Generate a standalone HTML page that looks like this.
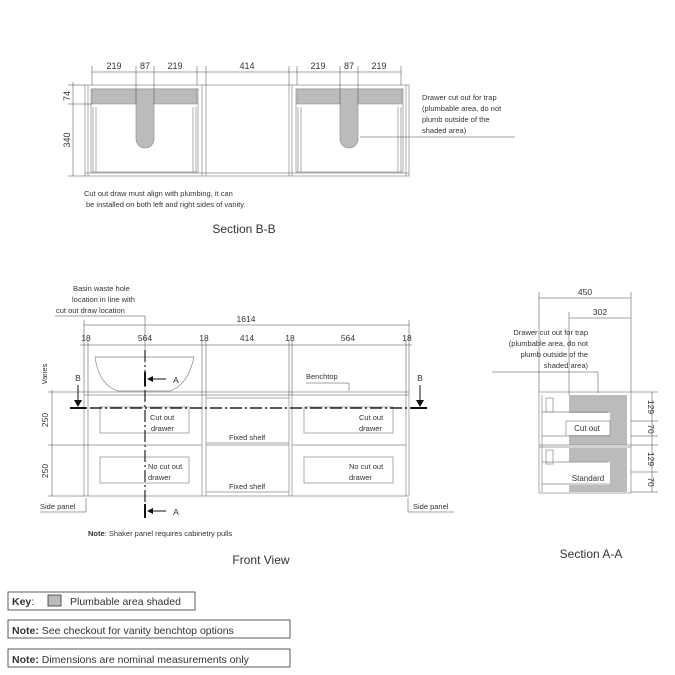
<!DOCTYPE html>
<html><head><meta charset="utf-8"><style>
body{margin:0;background:#fff}
svg{display:block;font-family:"Liberation Sans",sans-serif}
text{fill:#333}
</style></head><body>
<svg width="675" height="675" viewBox="0 0 675 675">
<defs><marker id="ar" markerWidth="6" markerHeight="6" refX="5" refY="3" orient="auto"><path d="M0,1.5L5,3L0,4.5z" fill="#333"/></marker></defs>
<g stroke="#888" stroke-width="0.7" fill="none">
<!-- Section B-B -->
<rect x="85" y="85" width="324" height="91"/>
<line x1="202" y1="85" x2="202" y2="176"/><line x1="206" y1="85" x2="206" y2="176"/>
<line x1="289" y1="85" x2="289" y2="176"/><line x1="292" y1="85" x2="292" y2="176"/>
<line x1="88" y1="85" x2="88" y2="176"/><line x1="406" y1="85" x2="406" y2="176"/>
<line x1="85" y1="173" x2="409" y2="173"/>
<rect x="91" y="89" width="107" height="83"/><rect x="296" y="89" width="107" height="83"/>
<line x1="93" y1="107" x2="93" y2="172"/><line x1="96" y1="107" x2="96" y2="172"/><line x1="193" y1="107" x2="193" y2="172"/><line x1="196" y1="107" x2="196" y2="172"/>
<line x1="298" y1="107" x2="298" y2="172"/><line x1="301" y1="107" x2="301" y2="172"/><line x1="398" y1="107" x2="398" y2="172"/><line x1="401" y1="107" x2="401" y2="172"/>
</g>
<g fill="#bbb" stroke="#888" stroke-width="0.6">
<path d="M92,89H197V104H154V139A9,9 0 0 1 136,139V104H92Z"/>
<path d="M297,89H402V104H358V139A9,9 0 0 1 340,139V104H297Z"/>
</g>
<g stroke="#333" stroke-width="0.5" fill="none" marker-end="url(#ar)" marker-start="url(#ar)">
</g>
<g stroke="#444" stroke-width="0.5">
<line x1="92" y1="72" x2="401" y2="72"/>
<line x1="92" y1="66" x2="92" y2="85"/><line x1="136" y1="66" x2="136" y2="104"/><line x1="154" y1="66" x2="154" y2="104"/><line x1="197" y1="66" x2="197" y2="85"/>
<line x1="206" y1="66" x2="206" y2="85"/><line x1="289" y1="66" x2="289" y2="85"/>
<line x1="297" y1="66" x2="297" y2="85"/><line x1="340" y1="66" x2="340" y2="104"/><line x1="358" y1="66" x2="358" y2="104"/><line x1="401" y1="66" x2="401" y2="85"/>
<line x1="73" y1="82" x2="73" y2="176"/><line x1="68" y1="85" x2="85" y2="85"/><line x1="68" y1="104" x2="92" y2="104"/><line x1="68" y1="176" x2="85" y2="176"/>
<line x1="360" y1="137" x2="515" y2="137"/>
</g>
<g font-size="9" text-anchor="middle">
<text x="114" y="69">219</text><text x="145" y="69">87</text><text x="175" y="69">219</text><text x="247" y="69">414</text>
<text x="318" y="69">219</text><text x="349" y="69">87</text><text x="379" y="69">219</text>
<text transform="translate(70,96) rotate(-90)">74</text><text transform="translate(70,140) rotate(-90)">340</text>
</g>
<g font-size="7.5">
<text x="422" y="100">Drawer cut out for trap</text><text x="422" y="111">(plumbable area, do not</text><text x="422" y="122">plumb outside of the</text><text x="422" y="133">shaded area)</text>
<text x="84" y="196">Cut out draw must align with plumbing, it can</text><text x="86" y="207">be installed on both left and right sides of vanity.</text>
</g>
<text x="244" y="233" font-size="12" text-anchor="middle">Section B-B</text>

<!-- Front view -->
<g stroke="#888" stroke-width="0.7" fill="none">
<line x1="84" y1="392" x2="409" y2="392"/><line x1="84" y1="395" x2="409" y2="395"/>
<line x1="84" y1="392" x2="84" y2="496"/><line x1="88" y1="395" x2="88" y2="496"/>
<line x1="202" y1="395" x2="202" y2="496"/><line x1="206" y1="395" x2="206" y2="496"/>
<line x1="289" y1="395" x2="289" y2="496"/><line x1="292" y1="395" x2="292" y2="496"/>
<line x1="406" y1="395" x2="406" y2="496"/><line x1="409" y1="392" x2="409" y2="496"/>
<line x1="84" y1="496" x2="409" y2="496"/>
<line x1="88" y1="445" x2="202" y2="445"/><line x1="292" y1="445" x2="406" y2="445"/>
<line x1="206" y1="398" x2="289" y2="398"/><line x1="206" y1="443" x2="289" y2="443"/><line x1="206" y1="445" x2="289" y2="445"/><line x1="206" y1="492" x2="289" y2="492"/>
<rect x="100" y="407" width="89" height="26"/><rect x="100" y="457" width="89" height="26"/>
<rect x="304" y="407" width="89" height="26"/><rect x="304" y="457" width="89" height="26"/>
<path d="M95,357H194Q188,385 170,391H118Q99,385 95,357Z"/>
</g>
<line x1="70" y1="408" x2="427" y2="408" stroke="#222" stroke-width="1.5" stroke-dasharray="12,3,2,3"/>
<line x1="145" y1="350" x2="145" y2="518" stroke="#222" stroke-width="1.2" stroke-dasharray="12,3,2,3"/>
<g stroke="#111" stroke-width="2">
<line x1="70" y1="408" x2="86" y2="408"/><line x1="411" y1="408" x2="427" y2="408"/>
<line x1="145" y1="372" x2="145" y2="386"/><line x1="145" y1="504" x2="145" y2="518"/>
</g>
<g stroke="#111" stroke-width="1">
<line x1="78" y1="385" x2="78" y2="404"/><line x1="420" y1="385" x2="420" y2="404"/>
<line x1="148" y1="379" x2="166" y2="379"/><line x1="148" y1="511" x2="166" y2="511"/>
</g>
<g fill="#111"><path d="M74,400L82,400L78,407Z"/><path d="M416,400L424,400L420,407Z"/><path d="M147,379L153,376L153,382Z"/><path d="M147,511L153,508L153,514Z"/></g>
<g stroke="#444" stroke-width="0.5">
<line x1="84" y1="325" x2="409" y2="325"/><line x1="84" y1="320" x2="84" y2="392"/><line x1="409" y1="320" x2="409" y2="392"/>
<line x1="80" y1="345" x2="412" y2="345"/>
<line x1="88" y1="340" x2="88" y2="395"/><line x1="202" y1="340" x2="202" y2="395"/><line x1="206" y1="340" x2="206" y2="395"/><line x1="289" y1="340" x2="289" y2="395"/><line x1="292" y1="340" x2="292" y2="395"/><line x1="406" y1="340" x2="406" y2="395"/>
<line x1="145" y1="316" x2="145" y2="350"/><line x1="55" y1="316" x2="145" y2="316"/>
<line x1="52" y1="390" x2="52" y2="496"/><line x1="48" y1="392" x2="84" y2="392"/><line x1="48" y1="445" x2="88" y2="445"/><line x1="48" y1="496" x2="84" y2="496"/>
<line x1="40" y1="512" x2="86" y2="512"/><line x1="86" y1="512" x2="86" y2="498"/>
<line x1="408" y1="512" x2="454" y2="512"/><line x1="408" y1="512" x2="408" y2="498"/>
<line x1="306" y1="383" x2="349" y2="383"/><line x1="349" y1="383" x2="349" y2="391"/>
</g>
<g font-size="8.5" text-anchor="middle">
<text x="246" y="322">1614</text>
<text x="86" y="341">18</text><text x="145" y="341">564</text><text x="204" y="341">18</text><text x="247" y="341">414</text><text x="290" y="341">18</text><text x="348" y="341">564</text><text x="407" y="341">18</text>
<text transform="translate(47,374) rotate(-90)" font-size="7.5">Varies</text>
<text transform="translate(48,420) rotate(-90)">250</text><text transform="translate(48,471) rotate(-90)">250</text>
<text x="78" y="381">B</text><text x="420" y="381">B</text><text x="176" y="383">A</text><text x="176" y="515">A</text>
</g>
<g font-size="7.5">
<text x="73" y="291">Basin waste hole</text><text x="72" y="302">location in line with</text><text x="56" y="313">cut out draw location</text>
<text x="306" y="379">Benchtop</text>
<text x="150" y="420">Cut out</text><text x="151" y="431">drawer</text>
<text x="359" y="420">Cut out</text><text x="359" y="431">drawer</text>
<text x="148" y="469">No cut out</text><text x="148" y="480">drawer</text>
<text x="349" y="469">No cut out</text><text x="349" y="480">drawer</text>
<text x="229" y="440">Fixed shelf</text><text x="229" y="489">Fixed shelf</text>
<text x="40" y="509">Side panel</text><text x="413" y="509">Side panel</text>
<text x="88" y="536"><tspan font-weight="bold">Note</tspan>: Shaker panel requires cabinetry pulls</text>
</g>
<text x="261" y="564" font-size="12" text-anchor="middle">Front View</text>

<!-- Section A-A -->
<g fill="#bbb">
<path d="M569,395H627V445H569V435H610V413H569Z"/>
<path d="M569,448H627V492H569V485H610V462H569Z"/>
</g>
<g stroke="#888" stroke-width="0.7" fill="none">
<rect x="539" y="392" width="92" height="101"/><line x1="539" y1="445" x2="631" y2="445"/><line x1="539" y1="447" x2="631" y2="447"/>
<line x1="542" y1="395" x2="542" y2="492"/>
<rect x="566" y="421" width="44" height="15"/><rect x="546" y="398" width="7" height="14"/>
<rect x="546" y="450" width="7" height="14"/>
<line x1="542" y1="412" x2="608" y2="412"/><line x1="542" y1="462" x2="608" y2="462"/>
<line x1="542" y1="436" x2="566" y2="436"/><line x1="542" y1="484" x2="610" y2="484"/>
</g>
<g stroke="#444" stroke-width="0.5">
<line x1="539" y1="298" x2="631" y2="298"/><line x1="539" y1="292" x2="539" y2="392"/><line x1="631" y1="292" x2="631" y2="392"/>
<line x1="569" y1="318" x2="631" y2="318"/><line x1="569" y1="312" x2="569" y2="395"/>
<line x1="492" y1="372" x2="598" y2="372"/><line x1="598" y1="372" x2="598" y2="393"/>
<line x1="652" y1="392" x2="652" y2="492"/>
<line x1="631" y1="392" x2="658" y2="392"/><line x1="631" y1="421" x2="658" y2="421"/><line x1="631" y1="436" x2="658" y2="436"/><line x1="631" y1="445" x2="658" y2="445"/><line x1="631" y1="472" x2="658" y2="472"/><line x1="631" y1="492" x2="658" y2="492"/>
</g>
<g font-size="8.5" text-anchor="middle">
<text x="585" y="295">450</text><text x="600" y="315">302</text>
<text transform="translate(648,407) rotate(90)">129</text><text transform="translate(648,429) rotate(90)">70</text>
<text transform="translate(648,459) rotate(90)">129</text><text transform="translate(648,482) rotate(90)">70</text>
</g>
<g font-size="7.5" text-anchor="end">
<text x="588" y="335">Drawer cut out for trap</text><text x="588" y="346">(plumbable area, do not</text><text x="588" y="357">plumb outside of the</text><text x="588" y="368">shaded area)</text>
</g>
<g font-size="8" text-anchor="middle"><text x="587" y="431">Cut out</text><text x="588" y="481">Standard</text></g>
<text x="591" y="558" font-size="12" text-anchor="middle">Section A-A</text>

<!-- Key / notes -->
<g stroke="#333" stroke-width="0.8" fill="none">
<rect x="8" y="592" width="187" height="18"/><rect x="8" y="620" width="282" height="18"/><rect x="8" y="649" width="282" height="18"/>
</g>
<rect x="48" y="595" width="13" height="11" fill="#bbb" stroke="#333" stroke-width="0.8"/>
<g font-size="10.5">
<text x="12" y="605"><tspan font-weight="bold">Key</tspan>:</text><text x="70" y="605">Plumbable area shaded</text>
<text x="12" y="634"><tspan font-weight="bold">Note:</tspan> See checkout for vanity benchtop options</text>
<text x="12" y="663"><tspan font-weight="bold">Note:</tspan> Dimensions are nominal measurements only</text>
</g>
</svg>
</body></html>
